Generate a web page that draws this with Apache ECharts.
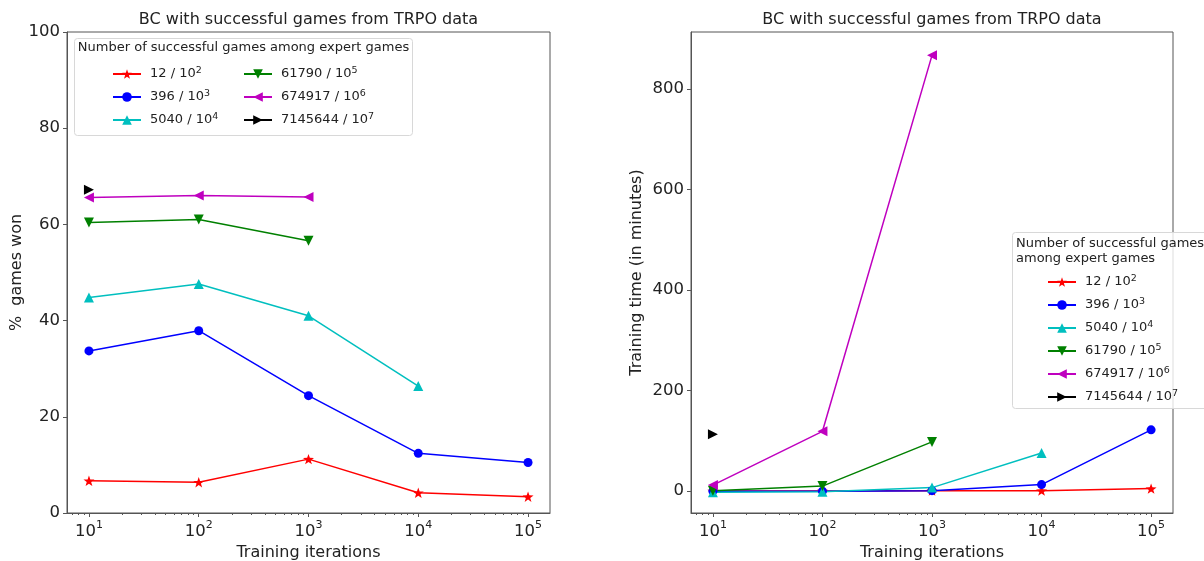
<!DOCTYPE html>
<html>
<head>
<meta charset="utf-8">
<script src="https://cdn.jsdelivr.net/npm/echarts@6/dist/echarts.min.js"></script>
<style>
html,body{margin:0;padding:0;background:#fff;}
#chart{width:1204px;height:561px;}
</style>
</head>
<body>
<div id="chart"></div>
<script>
// ---------- data ----------
const iterations = [10, 100, 1000, 10000, 100000];
const seriesNames = ['12 / 10^2', '396 / 10^3', '5040 / 10^4', '61790 / 10^5', '674917 / 10^6', '7145644 / 10^7'];
// % games won (left panel)
const wonRed = [6.7, 6.4, 11.2, 4.2, 3.4];
const wonBlue = [33.7, 37.9, 24.4, 12.4, 10.5];
const wonCyan = [44.8, 47.6, 41.0, 26.4];
const wonGreen = [60.4, 61.0, 56.6];
const wonMagenta = [65.6, 66.0, 65.7];
const wonBlack = [67.2];
// training time in minutes (right panel)
const timeRed = [0.5, 0.5, 1, 1, 5];
const timeBlue = [0, 0, 1, 13, 122];
const timeCyan = [-2, -1, 7, 76];
const timeGreen = [1, 10, 98];
const timeMagenta = [12, 119, 867];
const timeBlack = [113];
// tick labels
const xTickValues = [10, 100, 1000, 10000, 100000];
const xMinorTickValues = [7, 8, 9, 20, 30, 40, 50, 60, 70, 80, 90, 200, 300, 400, 500, 600, 700, 800, 900,
  2000, 3000, 4000, 5000, 6000, 7000, 8000, 9000, 20000, 30000, 40000, 50000, 60000, 70000, 80000, 90000];
const yTicksWon = [0, 20, 40, 60, 80, 100];
const yTicksTime = [0, 200, 400, 600, 800];
const panelTitle = 'BC with successful games from TRPO data';
const legendTitle = 'Number of successful games among expert games';

// ---------- styles ----------
const colors = ['#ff0000', '#0000ff', '#00bfbf', '#008000', '#bf00bf', '#000000'];
const starPath = 'path://M10,0 L12.35,6.76 L19.51,6.91 L13.8,11.24 L15.88,18.09 L10,14 L4.12,18.09 L6.2,11.24 L0.49,6.91 L7.65,6.76 Z';
const symbols = [starPath, 'circle', 'path://M5,0 L10,10 L0,10 Z', 'path://M0,0 L10,0 L5,10 Z',
  'path://M10,0 L10,10 L0,5 Z', 'path://M0,0 L0,10 L10,5 Z'];
const symbolSizes = [11, 9, 10, 10, 10, 10];
const FONT = 'DejaVu Sans';
const TXT = '#222';
const AX = '#555';

const log10 = v => Math.log10(v);
const xMin = 0.8, xMax = 5.2;

function supLabel(v) {
  const e = Math.round(v);
  return '{b|10}{s|' + e + '}';
}
function legendFmt(name) {
  return '{sp|}' + name.replace(/\^(\d+)/, '{s|$1}');
}

const wonData = [wonRed, wonBlue, wonCyan, wonGreen, wonMagenta, wonBlack];
const timeData = [timeRed, timeBlue, timeCyan, timeGreen, timeMagenta, timeBlack];

function makeSeries(dataSets, xIdx, yIdx) {
  return dataSets.map((vals, i) => ({
    name: seriesNames[i],
    type: 'line',
    xAxisIndex: xIdx,
    yAxisIndex: yIdx,
    data: vals.map((v, j) => [log10(iterations[j]), v]),
    symbol: symbols[i],
    symbolSize: symbolSizes[i],
    symbolKeepAspect: true,
    showAllSymbol: true,
    clip: false,
    color: colors[i],
    itemStyle: {color: colors[i]},
    lineStyle: {color: colors[i], width: 1.5},
    emphasis: {disabled: true},
    animation: false
  }));
}

function xAxes(gridIndex) {
  return [{
    gridIndex, type: 'value', min: xMin, max: xMax, position: 'bottom',
    axisLine: {show: true, onZero: false, lineStyle: {color: AX, width: 1}},
    axisTick: {show: true, length: 4, inside: false, lineStyle: {color: AX}, customValues: xTickValues.map(log10)},
    axisLabel: {show: true, margin: 7, customValues: xTickValues.map(log10), formatter: supLabel,
      color: TXT, fontFamily: FONT,
      rich: {b: {fontSize: 16.5, fontFamily: FONT, color: TXT, lineHeight: 20, verticalAlign: 'bottom'},
             s: {fontSize: 11, fontFamily: FONT, color: TXT, verticalAlign: 'top', lineHeight: 12}}},
    splitLine: {show: false},
    name: 'Training iterations', nameLocation: 'middle', nameGap: 29,
    nameTextStyle: {fontSize: 16, fontFamily: FONT, color: TXT}
  }, {
    gridIndex, type: 'value', min: xMin, max: xMax, position: 'bottom',
    axisLine: {show: false, onZero: false},
    axisTick: {show: true, length: 2, inside: false, lineStyle: {color: AX}, customValues: xMinorTickValues.map(log10)},
    axisLabel: {show: false},
    splitLine: {show: false}
  }];
}

const legendTextStyle = {
  fontSize: 13, fontFamily: FONT, color: TXT, lineHeight: 16,
  rich: {s: {fontSize: 9.5, fontFamily: FONT, color: TXT, verticalAlign: 'top', lineHeight: 10},
         sp: {width: 4}}
};
function legendOpt(names, left, top, gap) {
  return {
    data: names, left, top, orient: 'vertical', padding: 0, itemGap: gap,
    itemWidth: 28, itemHeight: 12, itemSymbolKeepAspect: true,
    selectedMode: false, formatter: legendFmt, textStyle: legendTextStyle, z: 200
  };
}

const gridBase = {show: true, borderColor: AX, borderWidth: 1, backgroundColor: 'transparent',
  containLabel: false, outerBoundsMode: 'none'};

const option = {
  backgroundColor: '#fff',
  animation: false,
  grid: [
    Object.assign({left: 67, top: 32, width: 483, height: 481}, gridBase),
    Object.assign({left: 691, top: 32, width: 482, height: 481}, gridBase)
  ],
  xAxis: [...xAxes(0), ...xAxes(1)],
  yAxis: [{
    gridIndex: 0, type: 'value', min: 0, max: 100, interval: 20,
    axisLine: {show: true, onZero: false, lineStyle: {color: AX}},
    axisTick: {show: true, length: 4, lineStyle: {color: AX}, customValues: yTicksWon},
    axisLabel: {fontSize: 16.5, fontFamily: FONT, color: TXT, margin: 7, customValues: yTicksWon},
    splitLine: {show: false},
    name: '%  games won', nameLocation: 'middle', nameGap: 41,
    nameTextStyle: {fontSize: 16, fontFamily: FONT, color: TXT}
  }, {
    gridIndex: 1, type: 'value', min: -43.5, max: 913.5,
    axisLine: {show: true, onZero: false, lineStyle: {color: AX}},
    axisTick: {show: true, length: 4, lineStyle: {color: AX}, customValues: yTicksTime},
    axisLabel: {fontSize: 16.5, fontFamily: FONT, color: TXT, margin: 7, customValues: yTicksTime},
    splitLine: {show: false},
    name: 'Training time (in minutes)', nameLocation: 'middle', nameGap: 46,
    nameTextStyle: {fontSize: 16, fontFamily: FONT, color: TXT}
  }],
  legend: [
    legendOpt(seriesNames.slice(0, 3), 112, 66, 7),
    legendOpt(seriesNames.slice(3, 6), 243, 66, 7),
    legendOpt(seriesNames, 1047, 274, 7)
  ],
  graphic: [
    {type: 'text', z: 100, style: {text: panelTitle, x: 308.5, y: 20, align: 'center', verticalAlign: 'middle', fontSize: 16, fontFamily: FONT, fill: TXT}},
    {type: 'text', z: 100, style: {text: panelTitle, x: 932, y: 20, align: 'center', verticalAlign: 'middle', fontSize: 16, fontFamily: FONT, fill: TXT}},
    {type: 'rect', z: 100, shape: {x: 74.5, y: 38.5, width: 338, height: 97, r: 3},
      style: {fill: 'rgba(255,255,255,0.8)', stroke: '#d8d8d8', lineWidth: 1}},
    {type: 'text', z: 101, style: {text: legendTitle, x: 243.5, y: 48, align: 'center', verticalAlign: 'middle', fontSize: 13, fontFamily: FONT, fill: TXT}},
    {type: 'rect', z: 100, shape: {x: 1012.5, y: 232.5, width: 200, height: 176, r: 3},
      style: {fill: 'rgba(255,255,255,0.8)', stroke: '#d8d8d8', lineWidth: 1}},
    {type: 'text', z: 101, style: {text: 'Number of successful games\namong expert games', x: 1016, y: 236, align: 'left', verticalAlign: 'top', fontSize: 13, lineHeight: 15, fontFamily: FONT, fill: TXT}}
  ],
  series: [...makeSeries(wonData, 0, 0), ...makeSeries(timeData, 2, 1)]
};

const chart = echarts.init(document.getElementById('chart'), null, {renderer: 'canvas'});
chart.setOption(option);
</script>
</body>
</html>
